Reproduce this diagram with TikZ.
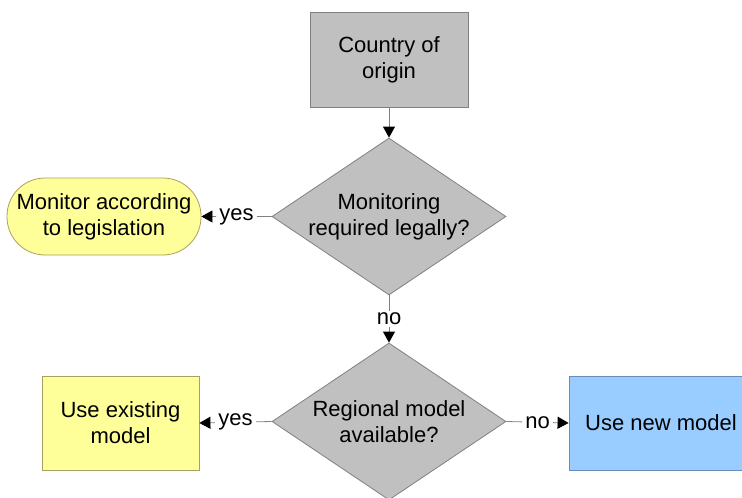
\documentclass[tikz,border=0pt]{standalone}
\usepackage{fontspec}
\setmainfont{Liberation Sans}
\usetikzlibrary{shapes.geometric,arrows.meta}
\definecolor{gfill}{HTML}{C0C0C0}
\definecolor{gline}{HTML}{808080}
\definecolor{yfill}{HTML}{FFFF99}
\definecolor{yline}{HTML}{A8A060}
\definecolor{bfill}{HTML}{99CCFF}
\definecolor{bline}{HTML}{6A8CB8}
\begin{document}
\begin{tikzpicture}[x=1pt,y=-1pt,
  every node/.style={font=\fontsize{22}{26}\selectfont, align=center},
  graybox/.style={rectangle, draw=gline, fill=gfill, line width=0.8pt, minimum width=158pt, minimum height=95pt, inner sep=0pt},
  decide/.style={diamond, aspect=1.49, draw=gline, fill=gfill, line width=0.8pt, minimum width=234pt, minimum height=157pt, inner sep=0pt},
  yelbox/.style={rectangle, draw=yline, fill=yfill, line width=0.8pt, minimum width=157pt, minimum height=94pt, inner sep=0pt},
  stadium/.style={rectangle, rounded corners=38pt, draw=yline, fill=yfill, line width=0.8pt, minimum width=194pt, minimum height=77pt, inner sep=0pt},
  bluebox/.style={rectangle, draw=bline, fill=bfill, line width=0.8pt, minimum width=184pt, minimum height=94pt, inner sep=0pt},
  flow/.style={draw=gline, line width=0.8pt, -{Triangle[length=11pt,width=12pt,black]}},
  lbl/.style={fill=white, inner xsep=3pt, inner ysep=2pt}
]
\useasboundingbox (0,0) rectangle (742,498);
\node[graybox] (origin) at (389,59.5) {Country of\\origin};
\node[decide] (legal) at (389,216.5) {Monitoring\\required legally?};
\node[stadium] (monitor) at (104,216.5) {Monitor according\\to legislation};
\node[decide] (regional) at (389,421.5) {Regional model\\available?};
\node[yelbox] (existing) at (120.5,423) {Use existing\\model};
\node[bluebox] (newmodel) at (661,423) {Use new model};
\draw[flow] (origin.south) -- (legal.north);
\draw[flow] (legal.west) -- node[lbl] {yes} (monitor.east);
\draw[flow] (legal.south) -- node[lbl] {no} (regional.north);
\draw[flow] (regional.west) -- node[lbl] {yes} (existing.east);
\draw[flow] (regional.east) -- node[lbl] {no} (newmodel.west);
\end{tikzpicture}
\end{document}
